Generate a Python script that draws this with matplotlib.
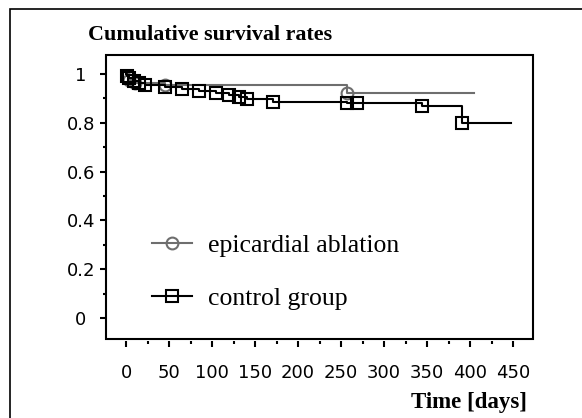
import matplotlib

matplotlib.use("Agg")
import matplotlib.pyplot as plt
from matplotlib.lines import Line2D
from matplotlib.patches import Rectangle
from matplotlib.ticker import MultipleLocator

# epicardial ablation group (step values after each event)
ablation_days = [0, 3, 10, 45, 257, 405]
ablation_surv = [1.0, 0.977, 0.962, 0.953, 0.922, 0.922]
ablation_mark_days = [3, 10, 45, 257]
ablation_mark_surv = [0.977, 0.962, 0.953, 0.922]

# control group
control_days = [0, 1, 4, 9, 15, 22, 45, 65, 85, 105, 120, 131, 141, 171, 257, 269, 344, 391, 447]
control_surv = [1.0, 0.99, 0.982, 0.972, 0.963, 0.955, 0.947, 0.940, 0.932, 0.924, 0.916,
                0.906, 0.899, 0.884, 0.882, 0.882, 0.869, 0.80, 0.80]
control_mark_days = control_days[1:-1]
control_mark_surv = control_surv[1:-1]

x_ticks = [0, 50, 100, 150, 200, 250, 300, 350, 400, 450]
y_ticks = [0, 0.2, 0.4, 0.6, 0.8, 1.0]
y_tick_labels = ["0", "0.2", "0.4", "0.6", "0.8", "1"]

serif = ["Liberation Serif", "DejaVu Serif"]
gray = "#6e6e6e"

fig = plt.figure(figsize=(5.82, 4.18), dpi=100)
ax = fig.add_axes([106 / 582, 1 - 339 / 418, 427 / 582, 284 / 418])

ax.plot(ablation_days, ablation_surv, drawstyle="steps-post", color=gray, lw=1.5, zorder=2)
ax.plot(ablation_mark_days, ablation_mark_surv, ls="none", marker="o", ms=8.5,
        mfc="none", mec=gray, mew=1.5, zorder=3)
ax.plot(control_days, control_surv, drawstyle="steps-post", color="black", lw=1.5, zorder=4)
ax.plot(control_mark_days, control_mark_surv, ls="none", marker="s", ms=9,
        mfc="none", mec="black", mew=1.5, zorder=5)

ax.set_xlim(-23.3, 473)
ax.set_ylim(-0.086, 1.078)

ax.set_xticks(x_ticks)
ax.set_yticks(y_ticks)
ax.set_yticklabels(y_tick_labels)
ax.xaxis.set_minor_locator(MultipleLocator(25))
ax.yaxis.set_minor_locator(MultipleLocator(0.1))
ax.tick_params(axis="both", which="major", direction="out", width=1.5, length=4.5,
               labelsize=13, colors="black")
ax.tick_params(axis="both", which="minor", direction="out", width=1.5, length=2.2)
ax.tick_params(axis="x", which="major", pad=12)
ax.tick_params(axis="y", which="major", pad=13.5)
for lab in ax.get_yticklabels():
    lab.set_horizontalalignment("center")

for side in ["left", "right", "top", "bottom"]:
    ax.spines[side].set_visible(False)
ax.spines["bottom"].set_position(("outward", 1.5))
ax.add_patch(Rectangle((0, 0), 1, 1, transform=ax.transAxes, fill=False,
                       lw=1.5, ec="black", clip_on=False, zorder=6))

handles = [
    Line2D([], [], color=gray, lw=1.5, marker="o", ms=8.5, mfc="none", mec=gray, mew=1.5),
    Line2D([], [], color="black", lw=1.5, marker="s", ms=9, mfc="none", mec="black", mew=1.5),
]
ax.legend(handles, ["epicardial ablation", "control group"], loc="center left",
          bbox_to_anchor=(0.108, 0.236), frameon=False, borderpad=0, borderaxespad=0,
          handlelength=1.56, handletextpad=0.62, labelspacing=1.2, numpoints=1,
          prop={"family": serif, "size": 18.5})

fig.text(88 / 582, 1 - 40 / 418, "Cumulative survival rates", ha="left", va="baseline",
         family=serif, weight="bold", fontsize=15.8)
fig.text(527 / 582, 1 - 408 / 418, "Time [days]", ha="right", va="baseline",
         family=serif, weight="bold", fontsize=16.5)

fig.patches.append(Rectangle((9.5 / 582, -0.1), 1.0, 1.1 - 9.5 / 418,
                             transform=fig.transFigure, fill=False, lw=1.2, ec="black"))

fig.savefig("out.png", dpi=100)
